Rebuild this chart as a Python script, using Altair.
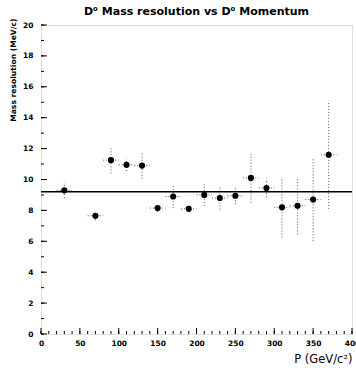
import altair as alt
import pandas as pd

# data
p_gev = [30, 70, 90, 110, 130, 150, 170, 190, 210, 230, 250, 270, 290, 310, 330, 350, 370]
sigma = [9.3, 7.65, 11.25, 10.95, 10.9, 8.15, 8.9, 8.1, 9.0, 8.8, 8.95, 10.1, 9.45, 8.2, 8.3, 8.7, 11.6]
sigma_err = [0.5, 0.3, 0.85, 0.4, 0.85, 0.25, 0.75, 0.2, 0.7, 0.75, 0.55, 1.6, 0.6, 1.95, 1.85, 2.7, 3.5]
p_halfbin = 10
fit_value = 9.2

y_major = list(range(0, 21, 2))
y_minor = list(range(0, 21, 1))
x_major = list(range(0, 401, 50))
x_minor = list(range(0, 401, 10))

W, H = 311, 309

df = pd.DataFrame({"p": p_gev, "s": sigma, "e": sigma_err})
df["lo"] = df.s - df.e
df["hi"] = df.s + df.e
df["pl"] = df.p - p_halfbin
df["ph"] = df.p + p_halfbin

xs = alt.Scale(domain=[0, 400], nice=False, zero=False)
ys = alt.Scale(domain=[0, 20], nice=False, zero=False)

FONT = "DejaVu Sans"

xaxis = alt.Axis(values=x_major, tickSize=0, labelPadding=5, labelFontSize=7.5,
                 labelFontWeight="bold", labelFont=FONT, domain=False, grid=False,
                 labelOverlap=False, labelFlush=False,
                 title="P (GeV/c²)", titleAnchor="end", titleFontSize=11.5,
                 titleFontWeight="normal", titleFont=FONT, titlePadding=7,
                 labelColor="black", titleColor="black")
yaxis = alt.Axis(values=y_major, tickSize=0, labelPadding=8, labelFontSize=7.5,
                 labelFontWeight="bold", labelFont=FONT, domain=False, grid=False,
                 labelOverlap=False, labelFlush=False,
                 title="Mass resolution (MeV/c)", titleAnchor="end", titleFontSize=7.6,
                 titleFontWeight="bold", titleFont=FONT, titlePadding=5,
                 titleY=-7, titleAlign="right",
                 labelColor="black", titleColor="black")

base = alt.Chart(df)

vbars = base.mark_rule(color="#555", strokeDash=[1, 2], strokeWidth=1).encode(
    x=alt.X("p:Q", scale=xs, axis=xaxis),
    y=alt.Y("lo:Q", scale=ys, axis=yaxis),
    y2="hi:Q",
)
hbars = base.mark_rule(color="#555", strokeDash=[1, 2], strokeWidth=1).encode(
    x=alt.X("pl:Q", scale=xs, axis=xaxis), x2="ph:Q", y=alt.Y("s:Q", scale=ys, axis=yaxis)
)
pts = base.mark_circle(color="black", opacity=1, size=38).encode(
    x=alt.X("p:Q", scale=xs, axis=xaxis), y=alt.Y("s:Q", scale=ys, axis=yaxis)
)
fit = alt.Chart(pd.DataFrame({"f": [fit_value]})).mark_rule(color="black", strokeWidth=1.5).encode(
    y=alt.Y("f:Q", scale=ys, axis=yaxis)
)

ymaj = alt.Chart(pd.DataFrame({"v": y_major})).mark_rule(color="black").encode(
    y=alt.Y("v:Q", scale=ys, axis=yaxis), x=alt.value(0), x2=alt.value(6))
ymin = alt.Chart(pd.DataFrame({"v": y_minor})).mark_rule(color="black").encode(
    y=alt.Y("v:Q", scale=ys, axis=yaxis), x=alt.value(0), x2=alt.value(3))
xmaj = alt.Chart(pd.DataFrame({"v": x_major})).mark_rule(color="black").encode(
    x=alt.X("v:Q", scale=xs, axis=xaxis), y=alt.value(H), y2=alt.value(H - 6))
xmin = alt.Chart(pd.DataFrame({"v": x_minor})).mark_rule(color="black").encode(
    x=alt.X("v:Q", scale=xs, axis=xaxis), y=alt.value(H), y2=alt.value(H - 3))

chart = alt.layer(vbars, hbars, fit, pts, ymaj, ymin, xmaj, xmin).properties(
    width=W, height=H,
    autosize=alt.AutoSizeParams(type="none"),
    padding={"left": 41, "top": 25, "right": 4, "bottom": 37},
    title=alt.TitleParams("D⁰ Mass resolution vs D⁰ Momentum", fontSize=11,
                          font=FONT, fontWeight="bold", offset=1, color="black"),
).configure_view(stroke="black", strokeWidth=1.2).configure(background="white")

chart.save("out.html", embed_options={"renderer": "svg", "actions": False})
